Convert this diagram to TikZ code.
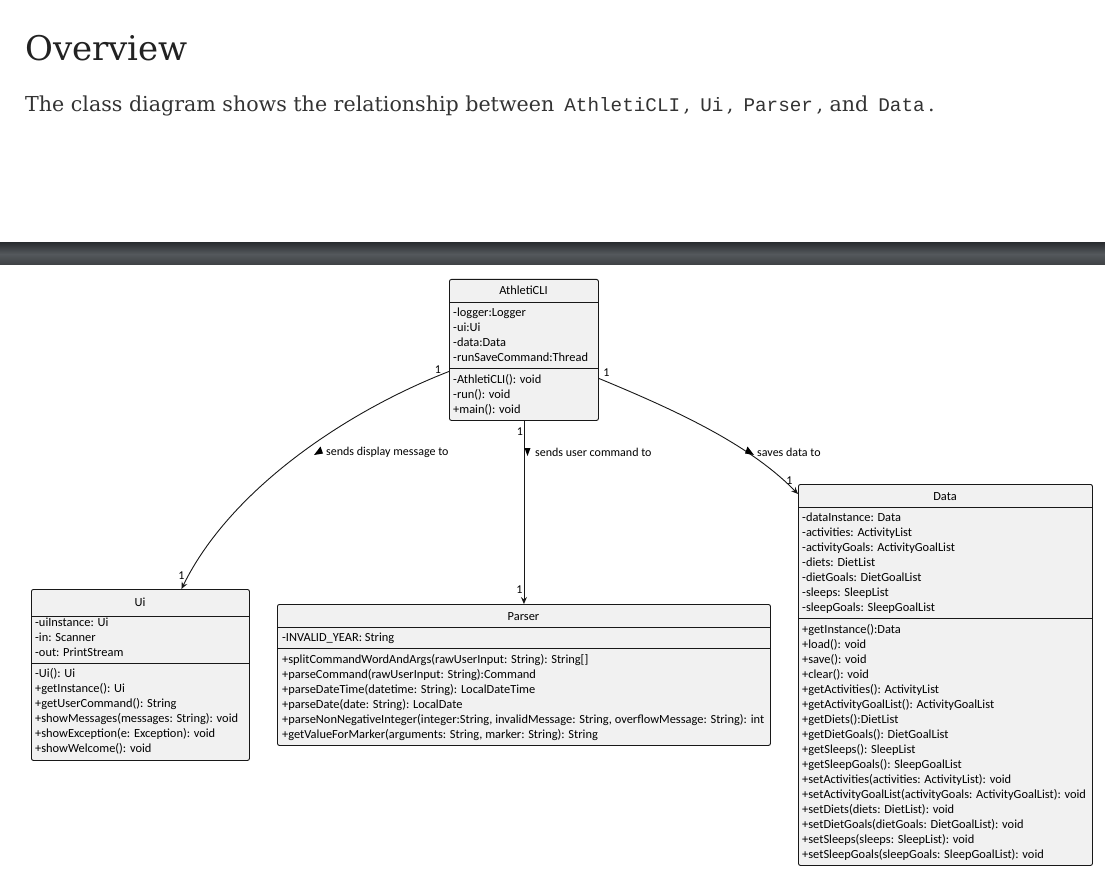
\documentclass[tikz,border=0pt]{standalone}
\usepackage{fontspec}
\setmainfont{DejaVu Serif}
\newfontfamily\umlfont{Carlito}
\newfontfamily\codefont{Liberation Mono}
\usetikzlibrary{arrows.meta}
\definecolor{boxfill}{HTML}{F1F1F1}
\definecolor{boxline}{HTML}{181818}
\definecolor{headtext}{HTML}{222222}
\definecolor{bodytext}{HTML}{333333}
\definecolor{bartop}{HTML}{2C2F32}
\definecolor{barmid}{HTML}{54585C}
\definecolor{barbot}{HTML}{3E4144}
\newcommand\code[1]{\kern3.5pt{\codefont\fontsize{19.3}{22}\selectfont #1}\kern3.5pt}
\newcommand\umlrows[4]{%
  \foreach \t [count=\i from 0] in {#4} {
    \node[txt] (#1-\i) at (#2, #3+15*\i) {\t};
  }%
}
\tikzset{
  cls/.style={draw=boxline, fill=boxfill, rounded corners=2pt, line width=0.9pt, anchor=north west, inner sep=0pt},
  sepl/.style={draw=boxline, line width=0.9pt},
  txt/.style={anchor=base west, inner sep=0pt, font=\umlfont\fontsize{12.4}{15}\selectfont},
  ttl/.style={anchor=base, inner sep=0pt, font=\umlfont\fontsize{12.4}{15}\selectfont},
  mult/.style={inner sep=0pt, font=\umlfont\fontsize{12}{14}\selectfont},
  lbl/.style={anchor=west, inner sep=0pt, font=\umlfont\fontsize{12}{14}\selectfont},
  assoc/.style={draw=boxline, line width=0.9pt, -{Stealth[length=7pt,width=6pt,inset=2.5pt]}},
}
\begin{document}
\begin{tikzpicture}[x=1pt,y=-1pt]
\useasboundingbox (0,0) rectangle (1105,882);
\fill[white] (0,0) rectangle (1105,882);
% header text
\node[anchor=base west, inner sep=0pt, font=\fontsize{34}{40}\selectfont, text=headtext] (title) at (25,61) {Overview};
\node[anchor=base west, inner sep=0pt, font=\fontsize{20.6}{24}\selectfont, text=bodytext] (intro) at (25,112)
  {The class diagram shows the relationship between \code{AthletiCLI}, \code{Ui}, \code{Parser}, and \code{Data}.};
% dark bar
\shade[top color=bartop, bottom color=barbot, middle color=barmid] (0,243) rectangle (1105,265);

% AthletiCLI
\node[cls, minimum width=149pt, minimum height=141pt] (athl) at (449,279) {};
\node[ttl] (athl-t) at (523.5,295) {AthletiCLI};
\draw[sepl] (449,302.5) -- (598,302.5);
\umlrows{athla}{453}{317}{-logger:Logger,-ui:Ui,-data:Data,-runSaveCommand:Thread}
\draw[sepl] (449,368.5) -- (598,368.5);
\umlrows{athlm}{453}{383}{-AthletiCLI(): void,-run(): void,+main(): void}

% Ui
\node[cls, minimum width=218pt, minimum height=171pt] (ui) at (31,589) {};
\node[ttl] (ui-t) at (140,606) {Ui};
\draw[sepl] (31,616) -- (249,616);
\umlrows{uia}{35}{626}{-uiInstance: Ui,-in: Scanner,-out: PrintStream}
\draw[sepl] (31,663) -- (249,663);
\umlrows{uim}{35}{677}{-Ui(): Ui,+getInstance(): Ui,+getUserCommand(): String,{+showMessages(messages: String): void},{+showException(e: Exception): void},+showWelcome(): void}

% Parser
\node[cls, minimum width=493pt, minimum height=141pt] (parser) at (277,604) {};
\node[ttl] (parser-t) at (523.5,620) {Parser};
\draw[sepl] (277,627) -- (770,627);
\umlrows{para}{282}{641}{-INVALID\_YEAR: String}
\draw[sepl] (277,648) -- (770,648);
\umlrows{parm}{282}{663}{{+splitCommandWordAndArgs(rawUserInput: String): String[]},{+parseCommand(rawUserInput: String):Command},{+parseDateTime(datetime: String): LocalDateTime},{+parseDate(date: String): LocalDate},{+parseNonNegativeInteger(integer:String, invalidMessage: String, overflowMessage: String): int},{+getValueForMarker(arguments: String, marker: String): String}}

% Data
\node[cls, minimum width=294pt, minimum height=381pt] (data) at (798,484) {};
\node[ttl] (data-t) at (945,500) {Data};
\draw[sepl] (798,507) -- (1092,507);
\umlrows{dataa}{802}{521}{-dataInstance: Data,-activities: ActivityList,-activityGoals: ActivityGoalList,-diets: DietList,-dietGoals: DietGoalList,-sleeps: SleepList,-sleepGoals: SleepGoalList}
\draw[sepl] (798,618) -- (1092,618);
\umlrows{datam}{802}{633}{+getInstance():Data,+load(): void,+save(): void,+clear(): void,+getActivities(): ActivityList,+getActivityGoalList(): ActivityGoalList,+getDiets():DietList,+getDietGoals(): DietGoalList,+getSleeps(): SleepList,+getSleepGoals(): SleepGoalList,{+setActivities(activities: ActivityList): void},{+setActivityGoalList(activityGoals: ActivityGoalList): void},{+setDiets(diets: DietList): void},{+setDietGoals(dietGoals: DietGoalList): void},{+setSleeps(sleeps: SleepList): void},{+setSleepGoals(sleepGoals: SleepGoalList): void}}

% connectors
\draw[assoc] ([yshift=-21.5pt]athl.west) .. controls (345,412) and (230,490) .. ([xshift=41pt]ui.north);
\draw[assoc] (athl.south) -- (parser.north);
\draw[assoc] ([yshift=-28.5pt]athl.east) .. controls (680,412) and (750,445) .. ([yshift=-10pt]data.north west);

% multiplicities
\node[mult] (m1) at (438,370) {1};
\node[mult] (m2) at (181.5,576) {1};
\node[mult] (m3) at (520,432) {1};
\node[mult] (m4) at (519.5,590) {1};
\node[mult] (m5) at (606.5,373) {1};
\node[mult] (m6) at (789.5,481) {1};

% association labels
\fill (314,455) -- (323,453.5) -- (320.5,446.5) -- cycle;
\node[lbl] (l1) at (326,452) {sends display message to};
\fill (524.5,448) -- (530.5,448) -- (527.5,456) -- cycle;
\node[lbl] (l2) at (535,452) {sends user command to};
\fill (754,455) -- (745,453.5) -- (747.5,446.5) -- cycle;
\node[lbl] (l3) at (757,452) {saves data to};
\end{tikzpicture}
\end{document}
